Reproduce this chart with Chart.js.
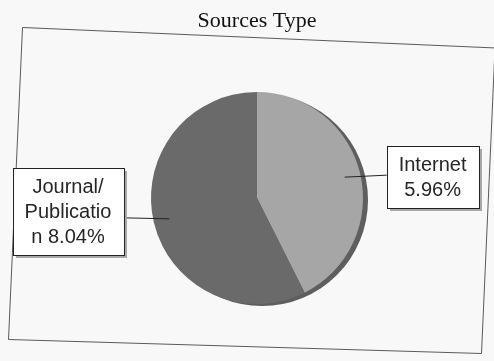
<!DOCTYPE html>
<html>
<head>
<meta charset="utf-8">
<script src="https://cdn.jsdelivr.net/npm/chart.js@4/dist/chart.umd.min.js"></script>
<style>
  html, body { margin: 0; padding: 0; background: #f8f8f8; }
  #wrap { width: 494px; height: 361px; }
</style>
</head>
<body>
<div id="wrap"><canvas id="c" width="494" height="361"></canvas></div>
<script>
// ---- data ----
const chartTitle = 'Sources Type';
const categories = ['Internet', 'Journal/Publication'];
const values = [5.96, 8.04];
const labelLines = [['Internet', '5.96%'], ['Journal/', 'Publicatio', 'n 8.04%']];
const sliceColors = ['#a6a6a6', '#6a6a6a'];

// decorative frame around the plot area (scanned, slightly tilted)
const framePlugin = {
  id: 'frame',
  beforeDatasetsDraw(chart) {
    const ctx = chart.ctx;
    ctx.save();
    ctx.strokeStyle = '#5a5a5a';
    ctx.lineWidth = 1;
    ctx.beginPath();
    ctx.moveTo(22.5, 27.5);
    ctx.lineTo(496, 48);
    ctx.moveTo(22.5, 27.5);
    ctx.lineTo(8.5, 339.5);
    ctx.lineTo(481.5, 353.5);
    ctx.lineTo(495, 48);
    ctx.stroke();
    // 3D rim behind the pie
    const arc = chart.getDatasetMeta(0).data[0];
    if (arc) {
      const p = arc.getProps(['x', 'y', 'outerRadius'], true);
      ctx.fillStyle = '#5e5e5e';
      ctx.beginPath();
      ctx.arc(p.x + 5, p.y + 2, p.outerRadius, 0, Math.PI * 2);
      ctx.fill();
    }
    ctx.restore();
  }
};

const calloutPlugin = {
  id: 'callouts',
  afterDatasetsDraw(chart) {
    const ctx = chart.ctx;
    const meta = chart.getDatasetMeta(0);
    ctx.save();
    ctx.font = '20px "Liberation Sans", Arial, sans-serif';
    ctx.textAlign = 'center';
    ctx.textBaseline = 'middle';
    const lineH = 25, padX = 12, padY = 6, gap = 42;
    meta.data.forEach((arc, i) => {
      const p = arc.getProps(['x', 'y', 'startAngle', 'endAngle', 'outerRadius'], true);
      const mid = (p.startAngle + p.endAngle) / 2;
      const ax = p.x + Math.cos(mid) * p.outerRadius * 0.85;
      const ay = p.y + Math.sin(mid) * p.outerRadius * 0.85;
      const lines = labelLines[i];
      const w = Math.max(...lines.map(t => ctx.measureText(t).width)) + padX * 2;
      const h = lines.length * lineH + padY * 2;
      const right = Math.cos(mid) >= 0;
      const bx = right ? ax + gap : ax - gap - w - 4;
      const by = (right ? ay : ay - 7) - h / 2;
      // leader line
      ctx.strokeStyle = '#222';
      ctx.lineWidth = 1;
      ctx.beginPath();
      ctx.moveTo(ax, ay);
      ctx.lineTo(right ? bx : bx + w, ay - (right ? 2 : 1));
      ctx.stroke();
      // box shadow
      ctx.fillStyle = '#a8a8a8';
      ctx.fillRect(Math.round(bx) + 3, Math.round(by) + 3, Math.round(w), Math.round(h));
      ctx.fillStyle = '#ffffff';
      ctx.fillRect(Math.round(bx), Math.round(by), Math.round(w), Math.round(h));
      ctx.strokeStyle = '#222';
      ctx.strokeRect(Math.round(bx) + 0.5, Math.round(by) + 0.5, Math.round(w), Math.round(h));
      ctx.fillStyle = '#262626';
      lines.forEach((t, k) => {
        ctx.fillText(t, bx + w / 2, by + padY + lineH * (k + 0.5) + 1);
      });
    });
    ctx.restore();
  }
};

new Chart(document.getElementById('c'), {
  type: 'pie',
  data: {
    labels: categories,
    datasets: [{
      data: values,
      backgroundColor: sliceColors,
      borderWidth: 0
    }]
  },
  options: {
    responsive: false,
    devicePixelRatio: 1,
    animation: false,
    layout: { padding: { left: 151, right: 131, top: 0, bottom: 57 } },
    plugins: {
      legend: { display: false },
      tooltip: { enabled: false },
      title: {
        display: true,
        text: chartTitle,
        color: '#111',
        font: { family: '"Liberation Serif", "Times New Roman", serif', size: 22, weight: 'normal' },
        padding: { top: 8, bottom: 57.6 }
      }
    }
  },
  plugins: [framePlugin, calloutPlugin]
});
</script>
</body>
</html>
